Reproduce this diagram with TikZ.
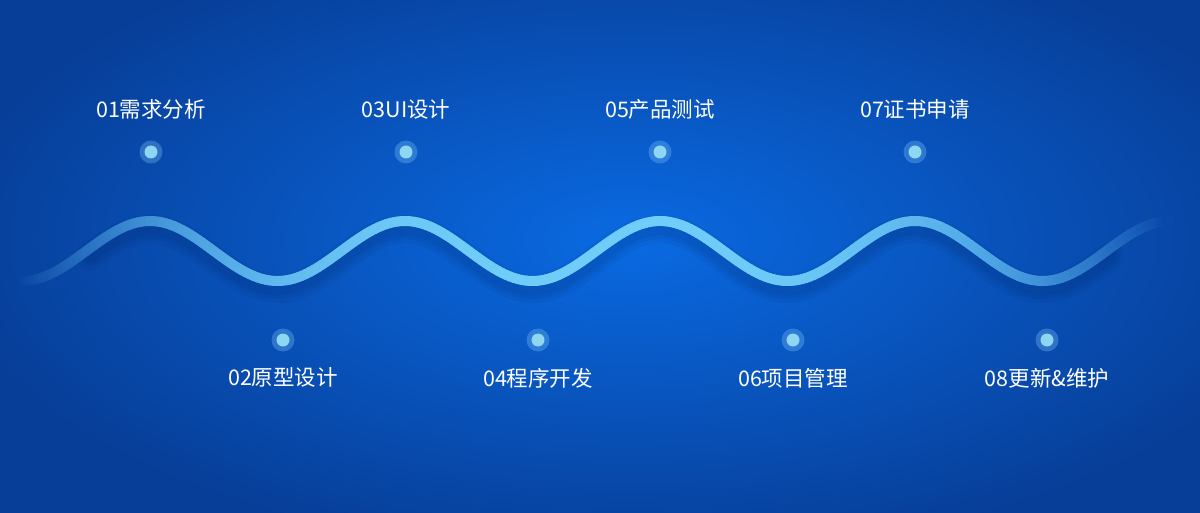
\documentclass[tikz,border=0pt]{standalone}
\usepackage{fontspec}
\setmainfont{Noto Sans CJK SC}
\usetikzlibrary{positioning}

\definecolor{bgout}{RGB}{7,62,152}
\definecolor{bgin}{RGB}{10,106,226}
\definecolor{wavecol}{RGB}{112,204,248}
\definecolor{halocol}{RGB}{120,190,245}
\definecolor{dotcol}{RGB}{142,214,242}
\definecolor{shadowcol}{RGB}{2,20,70}

\pgfdeclareradialshading{bgshade}{\pgfpoint{0bp}{0bp}}{color(0bp)=(bgin); color(25bp)=(bgout); color(50bp)=(bgout)}

\tikzset{
  dot/.style={circle,inner sep=0pt,minimum size=23pt,fill=halocol,fill opacity=0.35,text opacity=1,
    path picture={\fill[dotcol,fill opacity=1] (path picture bounding box.center) circle (6.5pt);}},
  every label/.style={text=white,font=\fontsize{21.5}{21.5}\selectfont,inner sep=0pt,fill=none,fill opacity=1},
  shadowline/.style={shadowcol,opacity=0.06,line cap=round},
}

\begin{document}
\begin{tikzpicture}[x=1pt,y=-1pt]
  \useasboundingbox (0,0) rectangle (1200,513);
  \shade[shading=bgshade] (-60,-80) rectangle (1320,560);

  % soft shadow under the wave
  \foreach \w in {28,20,13}
    \draw[shadowline,line width=\w pt]
      plot[domain=90:1110,samples=200,smooth] (\x,{259-30*cos(1.41176*(\x-150))});

  % the wave, fading out to both ends
  \foreach \i in {0,...,286}{
    \pgfmathsetmacro\xa{22+4*\i}
    \pgfmathsetmacro\xb{\xa+4}
    \pgfmathsetmacro\ya{251-30*cos(1.41176*(\xa-150))}
    \pgfmathsetmacro\yb{251-30*cos(1.41176*(\xb-150))}
    \pgfmathsetmacro\dd{abs(\xa+2-596)/574}
    \pgfmathsetmacro\op{100*(1-\dd*\dd*\dd)}
    \pgfmathsetmacro\rp{min(100,abs(\xa+2-630)/6.9)}
    \colorlet{segbg}{bgout!\rp!bgin}
    \draw[line width=10pt,line cap=round,color=wavecol!\op!segbg] (\xa,\ya) -- (\xb,\yb);
  }

  \node[dot] (1) at (151,152)[label={[label distance=21pt]above:01需求分析}]{};
  \node[dot] (3) at (406,152)[label={[label distance=21pt]above:03UI设计}]{};
  \node[dot] (5) at (660,152)[label={[label distance=21pt]above:05产品测试}]{};
  \node[dot] (7) at (915,152)[label={[label distance=21pt]above:07证书申请}]{};

  \node[dot] (2) at (283,340)[label={[label distance=16pt]below:02原型设计}]{};
  \node[dot] (4) at (538,340)[label={[label distance=16pt]below:04程序开发}]{};
  \node[dot] (6) at (793,340)[label={[label distance=16pt]below:06项目管理}]{};
  \node[dot] (8) at (1047,340)[label={[label distance=16pt]below:08更新\&维护}]{};
\end{tikzpicture}
\end{document}
